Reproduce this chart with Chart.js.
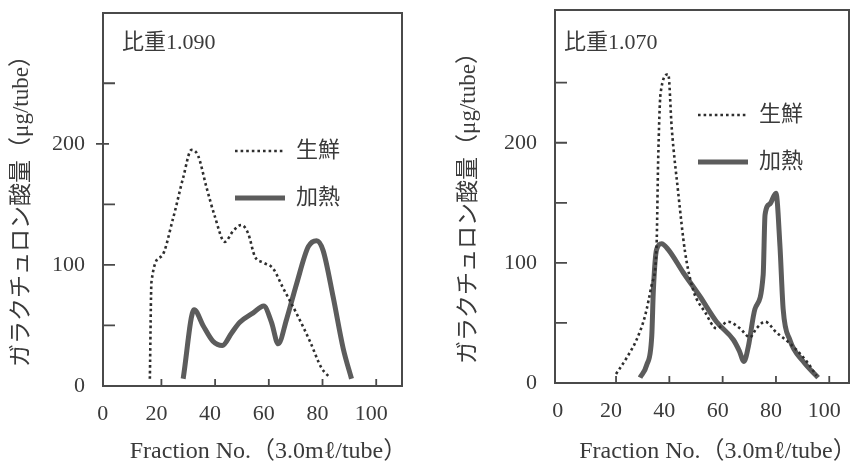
<!DOCTYPE html>
<html>
<head>
<meta charset="utf-8">
<script src="https://cdn.jsdelivr.net/npm/chart.js@4"></script>
<style>
  body { margin: 0; background: #fff; }
  canvas { position: absolute; top: 0; }
  #left { left: 0; }
  #right { left: 426px; }
</style>
</head>
<body>
<canvas id="left" width="426" height="464"></canvas>
<canvas id="right" width="426" height="464"></canvas>
<script>
// ticks shared by both panels
const xTicks = [0, 20, 40, 60, 80, 100];
const yTicks = [0, 50, 100, 150, 200, 250];
const yLabeled = [0, 100, 200];
const xTitle = "Fraction No.（3.0mℓ/tube）";
const yTitle = "ガラクチュロン酸量（μg/tube）";

// 比重1.090
const fresh1090X = [15.7, 16.3, 20, 24.3, 28.1, 31.2, 33.7, 36.8, 39.9, 43.6, 46.7, 49.8, 52.3, 54.8, 57.9, 61.6, 65.3, 70.3, 75.3, 79.6, 82.7];
const fresh1090Y = [6, 86, 107, 138, 172, 195, 190, 164, 140, 119, 128, 133, 126, 107, 102, 97, 81, 60, 37, 15, 7];
const heat1090X = [28.1, 32.2, 35.5, 39.2, 42.7, 46.1, 49.2, 54.2, 58.1, 61, 63.5, 66.6, 70.3, 74.7, 77.8, 80.2, 84, 87.7, 90.8];
const heat1090Y = [6, 63, 50, 37, 33.5, 43.6, 52.6, 60.4, 66, 52.6, 34.8, 55, 84, 115, 120, 112, 73, 31, 6];

// 比重1.070
const fresh1070X = [20, 24, 27.7, 30.9, 33.4, 35.2, 35.8, 36.7, 39.6, 40.9, 43.3, 45.9, 49, 53.4, 57.7, 62.1, 66.5, 70.2, 72.7, 75.9, 80.2, 85.2, 91.5, 95.2];
const fresh1070Y = [7.5, 21, 36, 56, 82, 114, 185, 241, 257, 212, 159, 109, 77, 59, 45.5, 51, 45.5, 38, 45.5, 51, 42, 33, 18, 6];
const heat1070X = [29, 31.5, 33.4, 34, 35.2, 37.1, 39.6, 45.2, 51.5, 57.7, 64, 66.2, 68, 69.6, 72.1, 75.2, 75.9, 77.7, 80, 81.5, 82.7, 85.2, 90.2, 95.8];
const heat1070Y = [4.5, 15, 39, 77, 111, 116, 111, 92, 72, 51, 36, 27, 18, 30, 61.5, 90, 140, 149, 158, 114, 61.5, 36, 18, 4.5];

const FONT = "'Liberation Serif', 'Noto Sans CJK JP', serif";
const TEXT = "#3a3a3a";
const FRAME = "#4a4a4a";

function toPoints(xs, ys) {
  return xs.map((x, i) => ({ x, y: ys[i] }));
}

// frame, inward ticks, axis titles, panel label and legend
const decorPlugin = {
  id: "decor",
  afterDraw(chart, args, o) {
    const { ctx, chartArea: a, scales } = chart;
    ctx.save();
    ctx.strokeStyle = FRAME;
    ctx.lineWidth = 2;
    ctx.strokeRect(a.left, a.top, a.right - a.left, a.bottom - a.top);

    ctx.lineWidth = 1.8;
    ctx.beginPath();
    scales.y.ticks.forEach(t => {
      if (t.value === 0) return;
      const y = scales.y.getPixelForValue(t.value);
      const out = o.crossTicks.includes(t.value) ? 7 : 0;
      const inn = o.crossTicks.includes(t.value) ? 6 : 12;
      ctx.moveTo(a.left - out, y);
      ctx.lineTo(a.left + inn, y);
    });
    scales.x.ticks.forEach(t => {
      if (t.value === 0) return;
      const x = scales.x.getPixelForValue(t.value);
      ctx.moveTo(x, a.bottom);
      ctx.lineTo(x, a.bottom - 7);
    });
    ctx.stroke();

    ctx.fillStyle = TEXT;
    ctx.textBaseline = "middle";

    // axis titles
    ctx.textAlign = "center";
    ctx.font = "24px " + FONT;
    ctx.fillText(xTitle, (a.left + a.right) / 2 + 16, chart.height - 12);
    ctx.save();
    ctx.font = "23px " + FONT;
    ctx.translate(o.yTitleX, (a.top + a.bottom) / 2 + 6);
    ctx.rotate(-Math.PI / 2);
    ctx.fillText(yTitle, 0, 0);
    ctx.restore();

    ctx.textAlign = "left";
    ctx.font = "22px " + FONT;
    ctx.fillText(o.label, a.left + o.labelPos[0], a.top + o.labelPos[1]);

    // legend
    chart.data.datasets.forEach((ds, i) => {
      const y = a.top + o.legendY[i];
      const x0 = a.left + o.legendX;
      ctx.beginPath();
      ctx.strokeStyle = ds.borderColor;
      ctx.lineWidth = ds.borderWidth;
      ctx.setLineDash(ds.borderDash || []);
      ctx.moveTo(x0, y);
      ctx.lineTo(x0 + 50, y);
      ctx.stroke();
      ctx.setLineDash([]);
      ctx.fillStyle = TEXT;
      ctx.fillText(ds.label, x0 + 61, y);
    });
    ctx.restore();
  }
};

function makeChart(id, p) {
  return new Chart(document.getElementById(id), {
    type: "line",
    data: {
      datasets: [
        {
          label: "生鮮",
          data: toPoints(p.freshX, p.freshY),
          borderColor: "#2e2e2e",
          borderWidth: 2.6,
          borderDash: [2.6, 3],
          cubicInterpolationMode: "monotone",
          pointRadius: 0
        },
        {
          label: "加熱",
          data: toPoints(p.heatX, p.heatY),
          borderColor: "#5c5c5c",
          borderWidth: 5,
          cubicInterpolationMode: "monotone",
          pointRadius: 0
        }
      ]
    },
    options: {
      responsive: false,
      animation: false,
      layout: { padding: { top: p.top, right: p.right, left: 0, bottom: 0 } },
      plugins: {
        legend: { display: false },
        tooltip: { enabled: false },
        decor: p.decor
      },
      scales: {
        x: {
          type: "linear",
          min: p.xMin,
          max: p.xMax,
          afterBuildTicks: s => { s.ticks = xTicks.map(v => ({ value: v })); },
          afterFit: s => {
            s.height = p.xHeight;
            s.paddingLeft = 0;
            s.paddingRight = 0;
          },
          grid: { display: false, drawTicks: false },
          border: { display: false },
          ticks: { font: { family: FONT, size: 22 }, color: TEXT, padding: 15, labelOffset: -5, maxRotation: 0, autoSkip: false }
        },
        y: {
          min: 0,
          max: p.yMax,
          afterBuildTicks: s => { s.ticks = yTicks.map(v => ({ value: v })); },
          afterFit: s => {
            s.width = p.yWidth;
            s.paddingTop = 0;
            s.paddingBottom = 0;
          },
          grid: { display: false, drawTicks: false },
          border: { display: false },
          ticks: {
            font: { family: FONT, size: 22 },
            color: TEXT,
            padding: 18,
            callback: v => (yLabeled.includes(v) ? v : "")
          }
        }
      }
    },
    plugins: [decorPlugin]
  });
}

makeChart("left", {
  freshX: fresh1090X, freshY: fresh1090Y, heatX: heat1090X, heatY: heat1090Y,
  top: 13, right: 24, xHeight: 78, yWidth: 103,
  xMin: -1.75, xMax: 109.6, yMax: 308,
  decor: { label: "比重1.090", labelPos: [19, 30], legendX: 132, legendY: [138, 185], crossTicks: [200], yTitleX: 22 }
});

makeChart("right", {
  freshX: fresh1070X, freshY: fresh1070Y, heatX: heat1070X, heatY: heat1070Y,
  top: 10, right: 3, xHeight: 81, yWidth: 129,
  xMin: -2.9, xMax: 107.4, yMax: 310.5,
  decor: { label: "比重1.070", labelPos: [9, 33], legendX: 143, legendY: [105, 152], crossTicks: [], yTitleX: 43 }
});
</script>
</body>
</html>
